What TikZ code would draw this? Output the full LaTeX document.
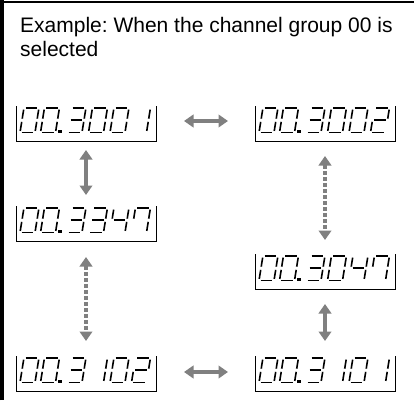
\documentclass[tikz,border=0pt]{standalone}
\usepackage{fontspec}
\setmainfont{Liberation Sans}
\usetikzlibrary{arrows.meta}
\frenchspacing
\definecolor{arrgray}{RGB}{128,128,128}
\tikzset{
  disp/.style={minimum width=140pt, minimum height=35pt, inner sep=0pt, outer sep=0pt},
  seg/.style={line width=1.6pt, line cap=butt},
  dblarrow/.style={arrgray, line width=4pt, {Triangle[width=12.5pt,length=9.5pt]}-{Triangle[width=12.5pt,length=9.5pt]}},
  dashedarrow/.style={dblarrow, dash pattern=on 4pt off 2pt},
  bracketline/.style={line width=0.9pt},
  titletext/.style={anchor=base west, inner sep=0pt, font=\fontsize{21}{24}\selectfont},
}
\newcommand\sdseg[1]{%
  \if#1a\draw[seg] (1.6,24.5)--(13.4,24.5);\fi
  \if#1b\draw[seg] (15,22.9)--(15,13.85);\fi
  \if#1c\draw[seg] (15,10.65)--(15,1.6);\fi
  \if#1d\draw[seg] (1.6,0)--(13.4,0);\fi
  \if#1e\draw[seg] (0,1.6)--(0,10.65);\fi
  \if#1f\draw[seg] (0,13.85)--(0,22.9);\fi
  \if#1g\draw[seg] (1.6,12.25)--(13.4,12.25);\fi
}
\newcommand\sddigit[3]{%
  \begin{scope}[shift={(#1.south west)}, xshift=#2pt, yshift=8.5pt, xslant=0.16]
    \foreach \s in #3 {\sdseg{\s}}
  \end{scope}}
\newcommand\sdbox[1]{\draw[bracketline] (#1.north west)--(#1.south west)--(#1.south east)--(#1.north east);}
% #1 node, #2..#7 six digits (segment lists)
\newcommand\sdshow[7]{%
  \sdbox{#1}%
  \sddigit{#1}{4}{#2}%
  \sddigit{#1}{24.5}{#3}%
  \fill ([xshift=42.3pt,yshift=7.7pt]#1.south west) rectangle ([xshift=45.5pt,yshift=10.9pt]#1.south west);%
  \sddigit{#1}{51}{#4}%
  \sddigit{#1}{72.5}{#5}%
  \sddigit{#1}{94}{#6}%
  \sddigit{#1}{115.5}{#7}}
\def\dZ{a,b,c,d,e,f}
\def\dO{b,c}
\def\dT{a,b,g,e,d}
\def\dH{a,b,g,c,d}
\def\dF{f,g,b,c}
\def\dS{a,f,b,c}
\begin{document}
\begin{tikzpicture}[x=1pt,y=1pt]
\useasboundingbox (0,0) rectangle (414,400);
\fill[white] (0,0) rectangle (414,400);
% frame
\draw[line width=3.5pt] (1.75,0)--(1.75,400);
\draw[line width=2.5pt] (0,397.75)--(414,397.75);
% title
\node[titletext] (t1) at (20,367) {Example: When the channel group 00 is};
\node[titletext] (t2) at (20,344) {selected};
% displays
\node[disp] (d1) at (86,276.5) {};
\node[disp] (d2) at (325,276.5) {};
\node[disp] (d3) at (86,176.5) {};
\node[disp] (d4) at (325,128.5) {};
\node[disp] (d5) at (86,26.5) {};
\node[disp] (d6) at (325,26.5) {};
\sdshow{d1}{\dZ}{\dZ}{\dH}{\dZ}{\dZ}{\dO}
\sdshow{d2}{\dZ}{\dZ}{\dH}{\dZ}{\dZ}{\dT}
\sdshow{d3}{\dZ}{\dZ}{\dH}{\dH}{\dF}{\dS}
\sdshow{d4}{\dZ}{\dZ}{\dH}{\dZ}{\dF}{\dS}
\sdshow{d5}{\dZ}{\dZ}{\dH}{\dO}{\dZ}{\dT}
\sdshow{d6}{\dZ}{\dZ}{\dH}{\dO}{\dZ}{\dO}
% arrows
\draw[dblarrow, shorten <=28pt, shorten >=27pt] ([yshift=2.5pt]d1.east) -- ([yshift=2.5pt]d2.west);
\draw[dblarrow, shorten <=28pt, shorten >=27pt] ([yshift=1.5pt]d5.east) -- ([yshift=1.5pt]d6.west);
\draw[dblarrow, shorten <=9pt, shorten >=11pt] (d1.south) -- (d3.north);
\draw[dashedarrow, shorten <=16pt, shorten >=15pt] (d3.south) -- (d5.north);
\draw[dashedarrow, shorten <=15pt, shorten >=14pt] (d2.south) -- (d4.north);
\draw[dblarrow, shorten <=15pt, shorten >=15pt] (d4.south) -- (d6.north);
\end{tikzpicture}
\end{document}
